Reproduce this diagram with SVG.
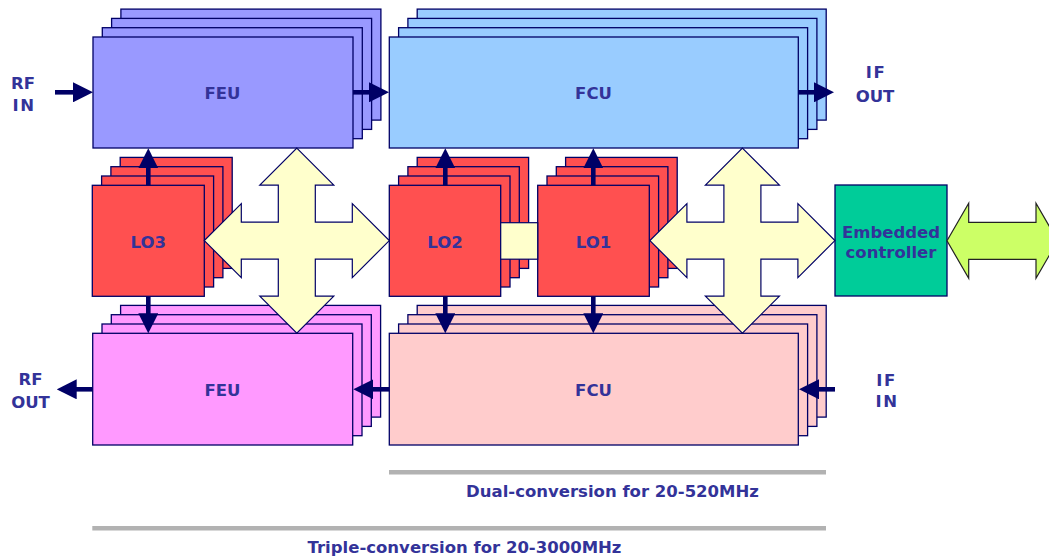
<svg xmlns="http://www.w3.org/2000/svg" xmlns:xlink="http://www.w3.org/1999/xlink" width="1049" height="557" viewBox="0 0 1049 557">
<defs>
<style>
.box{stroke:#000066;stroke-width:1.3}
.feu1{fill:#9999FF}.fcu1{fill:#99CCFF}.lo{fill:#FF5050}.feu2{fill:#FF99FF}.fcu2{fill:#FFCCCC}
.ec{fill:#00CC99}
.t{font-family:"DejaVu Sans","Verdana",sans-serif;font-weight:bold;font-size:16.5px;fill:#333399;text-anchor:middle}
.sp{letter-spacing:1.5px}
.wire{stroke:#000066;stroke-width:4.6;fill:none;marker-end:url(#ah)}
.bus{fill:#FFFFCC;stroke:#000066;stroke-width:1.2}
.ext{fill:#CCFF66;stroke:#222;stroke-width:1.2}
.rule{stroke:#B2B2B2;stroke-width:4.6}
</style>
<marker id="ah" markerUnits="userSpaceOnUse" markerWidth="20" markerHeight="20" refX="1" refY="10" orient="auto">
<path d="M0,0 L20,10 L0,20 z" fill="#000066"/>
</marker>
<path id="cross" d="M0,-92.5 L37,-55.5 L18.5,-55.5 L18.5,-18.5 L55.5,-18.5 L55.5,-37 L92.5,0 L55.5,37 L55.5,18.5 L18.5,18.5 L18.5,55.5 L37,55.5 L0,92.5 L-37,55.5 L-18.5,55.5 L-18.5,18.5 L-55.5,18.5 L-55.5,37 L-92.5,0 L-55.5,-37 L-55.5,-18.5 L-18.5,-18.5 L-18.5,-55.5 L-37,-55.5 Z"/>
</defs>
<rect width="1049" height="557" fill="#FFFFFF"/>

<g id="feu-tx" class="box feu1">
<rect x="120.9" y="9.1" width="260" height="111"/>
<rect x="111.6" y="18.4" width="260" height="111"/>
<rect x="102.3" y="27.7" width="260" height="111"/>
<rect x="93" y="37" width="260" height="111"/>
<text class="t" x="222.5" y="99" stroke="none">FEU</text>
</g>
<g id="fcu-tx" class="box fcu1">
<rect x="417.2" y="9.1" width="409" height="111"/>
<rect x="407.9" y="18.4" width="409" height="111"/>
<rect x="398.6" y="27.7" width="409" height="111"/>
<rect x="389.3" y="37" width="409" height="111"/>
<text class="t" x="593.5" y="99" stroke="none">FCU</text>
</g>
<g id="lo3" class="box lo">
<rect x="120.2" y="157.4" width="112" height="111"/>
<rect x="110.9" y="166.7" width="112" height="111"/>
<rect x="101.6" y="176" width="112" height="111"/>
<rect x="92.3" y="185.3" width="112" height="111"/>
<text class="t" x="148.3" y="248.3" stroke="none">LO3</text>
</g>
<g id="lo2" class="box lo">
<rect x="417.2" y="157.4" width="111.4" height="111"/>
<rect x="407.9" y="166.7" width="111.4" height="111"/>
<rect x="398.6" y="176" width="111.4" height="111"/>
<rect x="389.3" y="185.3" width="111.4" height="111"/>
<text class="t" x="445" y="248.3" stroke="none">LO2</text>
</g>
<g id="lo1" class="box lo">
<rect x="565.6" y="157.4" width="111.6" height="111"/>
<rect x="556.3" y="166.7" width="111.6" height="111"/>
<rect x="547" y="176" width="111.6" height="111"/>
<rect x="537.7" y="185.3" width="111.6" height="111"/>
<text class="t" x="593.5" y="248.3" stroke="none">LO1</text>
</g>
<g id="feu-rx" class="box feu2">
<rect x="120.6" y="305.4" width="260" height="111.7"/>
<rect x="111.3" y="314.7" width="260" height="111.7"/>
<rect x="102" y="324" width="260" height="111.7"/>
<rect x="92.7" y="333.3" width="260" height="111.7"/>
<text class="t" x="222.5" y="396" stroke="none">FEU</text>
</g>
<g id="fcu-rx" class="box fcu2">
<rect x="417.2" y="305.4" width="409" height="111.7"/>
<rect x="407.9" y="314.7" width="409" height="111.7"/>
<rect x="398.6" y="324" width="409" height="111.7"/>
<rect x="389.3" y="333.3" width="409" height="111.7"/>
<text class="t" x="593.5" y="396" stroke="none">FCU</text>
</g>
<g id="embedded-controller" class="box ec">
<rect x="835" y="185" width="112" height="111"/>
<text class="t" x="891" y="237.7" stroke="none">Embedded</text>
<text class="t" x="891" y="258.3" stroke="none">controller</text>
</g>

<g id="connectors">
<rect class="bus" x="500.7" y="222.7" width="37" height="36.5"/>
<use xlink:href="#cross" href="#cross" class="bus" x="296.8" y="240.6"/>
<use xlink:href="#cross" href="#cross" class="bus" x="742.4" y="240.6"/>
<path class="ext" d="M947,240.8 L968.7,203.3 L968.7,222.3 L1036,222.3 L1036,203.3 L1057.7,240.8 L1036,278.3 L1036,259.3 L968.7,259.3 L968.7,278.3 Z"/>
<line class="wire" x1="55" y1="92.3" x2="74" y2="92.3"/>
<line class="wire" x1="353" y1="92.3" x2="370" y2="92.3"/>
<line class="wire" x1="798" y1="92.3" x2="815" y2="92.3"/>
<line class="wire" x1="148.3" y1="185.3" x2="148.3" y2="167.3"/>
<line class="wire" x1="148.3" y1="296.3" x2="148.3" y2="314.3"/>
<line class="wire" x1="445.3" y1="185.3" x2="445.3" y2="167.3"/>
<line class="wire" x1="445.3" y1="296.3" x2="445.3" y2="314.3"/>
<line class="wire" x1="593.3" y1="185.3" x2="593.3" y2="167.3"/>
<line class="wire" x1="593.3" y1="296.3" x2="593.3" y2="314.3"/>
<line class="wire" x1="389.3" y1="389.3" x2="372.3" y2="389.3"/>
<line class="wire" x1="835" y1="389.3" x2="818" y2="389.3"/>
<line class="wire" x1="92.7" y1="389.3" x2="75.7" y2="389.3"/>
</g>

<g id="labels">
<text class="t" x="23" y="89.3">RF</text>
<text class="t sp" x="24" y="110.7">IN</text>
<text class="t sp" x="876" y="78.3">IF</text>
<text class="t" x="875" y="101.7">OUT</text>
<text class="t" x="30.5" y="385">RF</text>
<text class="t" x="30.5" y="407.7">OUT</text>
<text class="t sp" x="886.5" y="386.3">IF</text>
<text class="t sp" x="887" y="407.3">IN</text>
<line class="rule" x1="389" y1="472.3" x2="826" y2="472.3"/>
<text class="t" x="612.5" y="497.3">Dual-conversion for 20-520MHz</text>
<line class="rule" x1="92.3" y1="528.3" x2="826" y2="528.3"/>
<text class="t" x="464.5" y="552.7">Triple-conversion for 20-3000MHz</text>
</g>
</svg>
